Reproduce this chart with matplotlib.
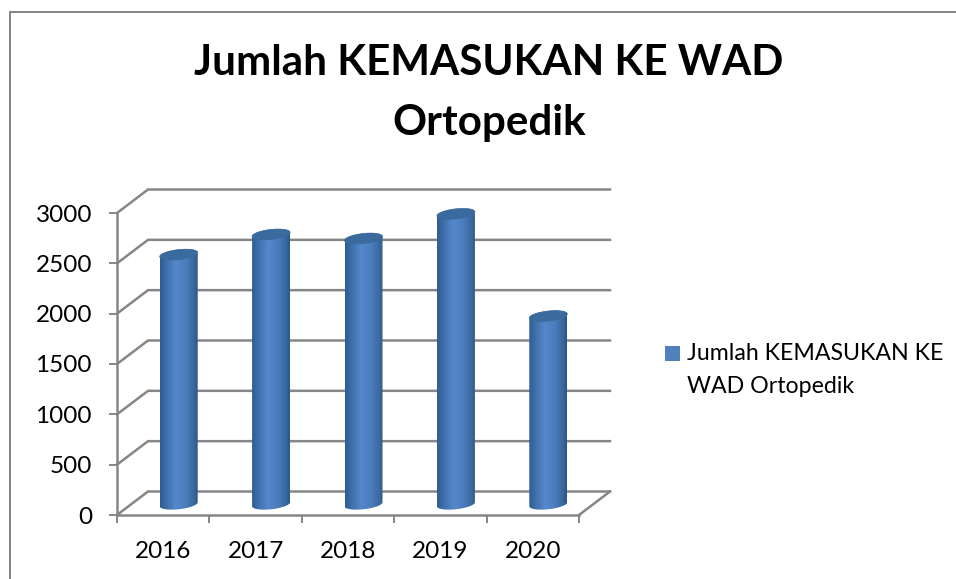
import matplotlib
matplotlib.use("Agg")
import matplotlib.pyplot as plt
import numpy as np
from matplotlib.colors import LinearSegmentedColormap
from matplotlib.patches import Polygon, Rectangle

plt.rcParams['font.family'] = ['Lato', 'DejaVu Sans']

years = ['2016', '2017', '2018', '2019', '2020']
values = [2480, 2680, 2640, 2885, 1870]
y_ticks = [0, 500, 1000, 1500, 2000, 2500, 3000]
title = 'Jumlah KEMASUKAN KE WAD\nOrtopedik'
series_name = 'Jumlah KEMASUKAN KE\nWAD Ortopedik'

W, H = 956, 579
grey = '#868686'

fig = plt.figure(figsize=(W / 100, H / 100), dpi=100)
ax = fig.add_axes([117 / W, 1 - 515 / H, 462 / W, 302 / H])
ax.set_xlim(0, 5)
ax.set_ylim(0, 3000)

# px -> data units, the fake 3d depth is worked out from these
ux = 5 / 462
uy = 3000 / 302
depth_x = 31 * ux
depth_y = 23.5 * uy

cyl_cmap = LinearSegmentedColormap.from_list(
    'cyl', [(0, '#2F5C92'), (0.2, '#4273B0'), (0.42, '#5588CC'),
            (0.7, '#4A7CBB'), (0.9, '#38679F'), (1, '#2C5687')])


def cylinder(i, val):
    cx = i + 0.5 + depth_x / 2
    base = depth_y / 2 - 10
    top = base + val
    a = 19 * ux
    b = 5 * uy
    tilt = 2 * uy
    t = np.linspace(0, 2 * np.pi, 80)
    ex = a * np.cos(t)
    ey = b * np.sin(t) + tilt * np.cos(t)

    # front of the cylinder: lower half of both ends
    t1 = np.linspace(np.pi, 2 * np.pi, 40)
    low_x = cx + a * np.cos(t1)
    low_y = base + b * np.sin(t1) + tilt * np.cos(t1)
    t2 = np.linspace(0, np.pi, 40)
    up_x = cx + a * np.cos(t2)
    up_y = top + b * np.sin(t2) + tilt * np.cos(t2)
    body = Polygon(np.column_stack([np.r_[low_x, up_x], np.r_[low_y, up_y]]),
                   closed=True, facecolor='none', edgecolor='none', zorder=3)
    ax.add_patch(body)

    grad = np.linspace(0, 1, 100).reshape(1, -1)
    im = ax.imshow(grad, cmap=cyl_cmap, extent=[cx - a, cx + a, base - b - tilt, top + b + tilt],
                   aspect='auto', zorder=3, origin='lower', clip_on=True)
    im.set_clip_path(body)

    ax.add_patch(Polygon(np.column_stack([cx + ex, top + ey]), closed=True,
                         facecolor='#3B6A9E', edgecolor='#3B6A9E', lw=0.5, zorder=4,
                         clip_on=False))


# wall gridlines and floor edges
for v in y_ticks:
    ax.plot([0, depth_x, 5 + depth_x], [v, v + depth_y, v + depth_y],
            color=grey, lw=1.8, clip_on=False, zorder=1, solid_joinstyle='miter')
ax.plot([5, 5 + depth_x], [0, depth_y], color=grey, lw=1.8, clip_on=False, zorder=1)

for i, val in enumerate(values):
    cylinder(i, val)

ax.set_xlim(0, 5)
ax.set_ylim(0, 3000)
ax.patch.set_alpha(0)

for s in ['top', 'right']:
    ax.spines[s].set_visible(False)
for s in ['left', 'bottom']:
    ax.spines[s].set_color(grey)
    ax.spines[s].set_linewidth(1.8)
    ax.spines[s].set_zorder(2)

ax.set_yticks(y_ticks)
ax.set_xticks(range(6))
ax.set_xticklabels([])
ax.set_xticks(np.arange(5) + 0.5, labels=years, minor=True)
ax.tick_params(axis='x', which='major', length=6, width=1.4, color=grey)
ax.tick_params(axis='x', which='minor', length=0, pad=19, labelsize=17.5, labelcolor='black')
ax.tick_params(axis='y', length=6, width=1.4, color=grey, labelsize=17.5, pad=12)

fig.text(489 / W, 1 - 93 / H, title, ha='center', va='center', fontsize=30.3,
         fontweight='bold', linespacing=1.68)

# chart frame only shows along the top and left
fig.add_artist(Rectangle((9 / W, 0), 2 / W, 1 - 12 / H, transform=fig.transFigure,
                         color=grey, lw=0))
fig.add_artist(Rectangle((9 / W, 1 - 12.5 / H), 1 - 9 / W, 1.5 / H, transform=fig.transFigure,
                         color=grey, lw=0))

# legend, key sits on the first line of the label
fig.add_artist(Rectangle((665 / W, 1 - 361 / H), 15 / W, 15 / H, transform=fig.transFigure,
                         color='#4F81BD', lw=0))
fig.text(687 / W, 1 - 370 / H, series_name, ha='left', va='center', fontsize=16.7,
         linespacing=1.65)

fig.savefig('out.png', dpi=100)
